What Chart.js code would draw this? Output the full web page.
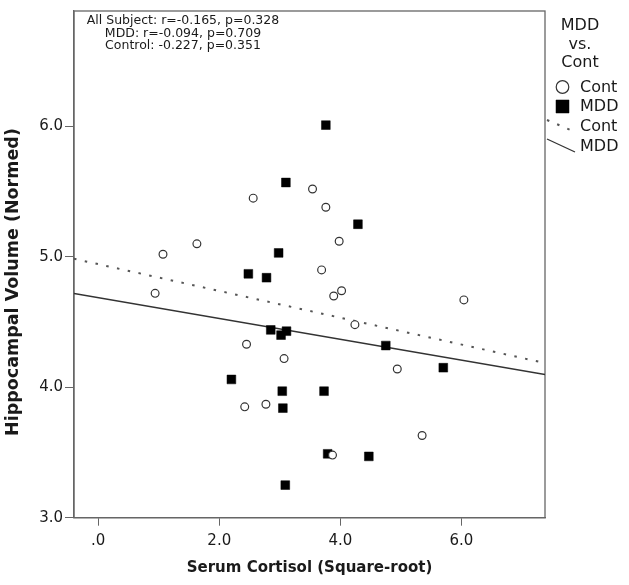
<!DOCTYPE html>
<html>
<head>
<meta charset="utf-8">
<script src="https://cdn.jsdelivr.net/npm/chart.js@4.4.1/dist/chart.umd.min.js"></script>
<style>
  html, body { margin: 0; padding: 0; background: #fff; }
</style>
</head>
<body>
<canvas id="chart" width="629" height="585"></canvas>
<script>
"use strict";

// Control subjects (open circles)
var cont_x = [0.94, 1.07, 1.63, 2.42, 2.45, 2.56, 2.77, 3.07, 3.54, 3.69, 3.76, 3.87, 3.89, 3.98, 4.02, 4.24, 4.94, 5.35, 6.04];
var cont_y = [4.72, 5.02, 5.10, 3.85, 4.33, 5.45, 3.87, 4.22, 5.52, 4.90, 5.38, 3.48, 4.70, 5.12, 4.74, 4.48, 4.14, 3.63, 4.67];

// MDD subjects (filled squares)
var mdd_x = [2.20, 2.48, 2.78, 2.85, 2.98, 3.02, 3.04, 3.05, 3.09, 3.10, 3.11, 3.73, 3.76, 3.79, 4.29, 4.47, 4.75, 5.70];
var mdd_y = [4.06, 4.87, 4.84, 4.44, 5.03, 4.40, 3.97, 3.84, 3.25, 5.57, 4.43, 3.97, 6.01, 3.49, 5.25, 3.47, 4.32, 4.15];

// fit lines, read at the left and right edges of the plot
var cont_fit_x = [-0.40, 7.38];
var cont_fit_y = [4.985, 4.186];
var mdd_fit_x = [-0.40, 7.38];
var mdd_fit_y = [4.719, 4.098];

var x_ticks = [0, 2, 4, 6];
var y_ticks = [3, 4, 5, 6];

var stats_lines = [
  "All Subject: r=-0.165, p=0.328",
  "MDD: r=-0.094, p=0.709",
  "Control: -0.227, p=0.351"
];
var legend_title = ["MDD", "vs.", "Cont"];

var text_color = "#1a1a1a";
var axis_color = "#666";

function to_points(xs, ys) {
  var pts = [];
  for(var i = 0; i < xs.length; i++) {
    pts.push({x: xs[i], y: ys[i]});
  }
  return pts;
}

function draw_marker(ctx, ds, x, y, r) {
  ctx.save();
  ctx.fillStyle = ds.backgroundColor;
  ctx.strokeStyle = ds.borderColor;
  ctx.lineWidth = ds.borderWidth;
  Chart.helpers.drawPoint(ctx, {pointStyle: ds.pointStyle, radius: r, rotation: 0, borderWidth: ds.borderWidth}, x, y);
  ctx.restore();
}

function draw_swatch(ctx, ds, x1, y1, x2, y2) {
  ctx.save();
  ctx.strokeStyle = ds.borderColor;
  ctx.lineWidth = ds.borderWidth;
  ctx.setLineDash(ds.borderDash || []);
  ctx.beginPath();
  ctx.moveTo(x1, y1);
  ctx.lineTo(x2, y2);
  ctx.stroke();
  ctx.restore();
}

var frame_plugin = {
  id: "frame",
  beforeDatasetsDraw: function(chart) {
    var a = chart.chartArea;
    var ctx = chart.ctx;
    ctx.save();
    ctx.strokeStyle = axis_color;
    ctx.lineWidth = 1.3;
    ctx.strokeRect(a.left, a.top, a.right - a.left, a.bottom - a.top);
    ctx.restore();
  },
  afterDraw: function(chart) {
    var ctx = chart.ctx;
    var sets = chart.data.datasets;
    ctx.save();
    ctx.fillStyle = text_color;
    ctx.textBaseline = "middle";

    // r / p annotation
    ctx.textAlign = "center";
    ctx.font = "12.5px 'DejaVu Sans'";
    for(var i = 0; i < stats_lines.length; i++) {
      ctx.fillText(stats_lines[i], 183, 21 + i * 12.6);
    }

    // y axis title, sits a little below the centre as in the original
    ctx.save();
    ctx.translate(13, 282);
    ctx.rotate(-Math.PI / 2);
    ctx.font = "bold 17.5px 'DejaVu Sans'";
    ctx.fillText("Hippocampal Volume (Normed)", 0, 0);
    ctx.restore();

    // legend
    ctx.font = "16px 'DejaVu Sans'";
    for(var j = 0; j < legend_title.length; j++) {
      ctx.fillText(legend_title[j], 580, 26 + j * 18.5);
    }
    ctx.textAlign = "left";
    draw_marker(ctx, sets[0], 562.5, 87, 6.3);
    ctx.fillText(sets[0].label, 580, 88);
    draw_marker(ctx, sets[1], 562.5, 106.5, 9.2);
    ctx.fillText(sets[1].label, 580, 107);
    draw_swatch(ctx, sets[2], 547, 120, 573, 131);
    ctx.fillText(sets[2].label, 580, 127);
    draw_swatch(ctx, sets[3], 547, 139, 575, 152);
    ctx.fillText(sets[3].label, 580, 147);
    ctx.restore();
  }
};

new Chart(document.getElementById("chart"), {
  type: "scatter",
  data: {
    datasets: [
      {
        label: "Cont",
        data: to_points(cont_x, cont_y),
        pointStyle: "circle",
        pointRadius: 3.9,
        backgroundColor: "#fff",
        borderColor: "#333",
        borderWidth: 1.2,
        order: 1
      },
      {
        label: "MDD",
        data: to_points(mdd_x, mdd_y),
        pointStyle: "rect",
        pointRadius: 6.2,
        backgroundColor: "#000",
        borderColor: "#000",
        borderWidth: 0.5,
        order: 1
      },
      {
        label: "Cont",
        data: to_points(cont_fit_x, cont_fit_y),
        showLine: true,
        pointRadius: 0,
        borderColor: "#555",
        borderWidth: 2,
        borderDash: [2.5, 8.5],
        order: 2
      },
      {
        label: "MDD",
        data: to_points(mdd_fit_x, mdd_fit_y),
        showLine: true,
        pointRadius: 0,
        borderColor: "#333",
        borderWidth: 1.3,
        order: 2
      }
    ]
  },
  options: {
    responsive: false,
    animation: false,
    events: [],
    devicePixelRatio: 1,
    layout: { padding: { top: 7, right: 84, left: 0, bottom: 0 } },
    plugins: {
      legend: { display: false },
      tooltip: { enabled: false }
    },
    scales: {
      x: {
        type: "linear",
        min: -0.40,
        max: 7.38,
        afterBuildTicks: function(scale) {
          scale.ticks = x_ticks.map(function(v) { return {value: v}; });
        },
        afterFit: function(scale) { scale.height = 67.3; },
        grid: { drawOnChartArea: false, tickLength: 8, color: axis_color, tickColor: axis_color },
        border: { color: axis_color, width: 1.3 },
        ticks: {
          padding: 6,
          color: text_color,
          font: { family: "'DejaVu Sans'", size: 15 },
          maxRotation: 0,
          callback: function(v) { return v === 0 ? ".0" : v.toFixed(1); }
        },
        title: {
          display: true,
          text: "Serum Cortisol (Square-root)",
          color: text_color,
          font: { family: "'DejaVu Sans'", size: 15, weight: "bold" },
          padding: { top: 0, bottom: 8 }
        }
      },
      y: {
        type: "linear",
        min: 3.0,
        max: 6.885,
        afterBuildTicks: function(scale) {
          scale.ticks = y_ticks.map(function(v) { return {value: v}; });
        },
        afterFit: function(scale) { scale.width = 74; },
        grid: { drawOnChartArea: false, tickLength: 9, color: axis_color, tickColor: axis_color },
        border: { color: axis_color, width: 1.3 },
        ticks: {
          padding: 2,
          color: text_color,
          font: { family: "'DejaVu Sans'", size: 15 },
          callback: function(v) { return v.toFixed(1); }
        }
      }
    }
  },
  plugins: [frame_plugin]
});
</script>
</body>
</html>
